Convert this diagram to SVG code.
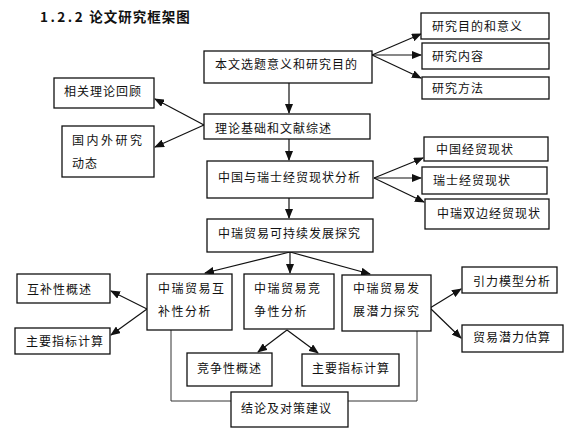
<svg xmlns="http://www.w3.org/2000/svg" width="579" height="436" viewBox="0 0 579 436">
<style>
.b{fill:#fff;stroke:#111;stroke-width:1.3}
.t{font-family:"Noto Sans CJK SC","Liberation Sans",sans-serif;font-size:12px;fill:#111;letter-spacing:1px}
.c{fill:none;stroke:#111;stroke-width:1.2}
.l{fill:none;stroke:#333;stroke-width:1}
.h{font-family:"Noto Sans CJK SC","Liberation Sans",sans-serif;font-size:13.5px;font-weight:bold;fill:#111;letter-spacing:1px}
</style>
<defs>
<marker id="a" markerUnits="userSpaceOnUse" markerWidth="10" markerHeight="8" refX="9" refY="4" orient="auto">
<path d="M0,0 L10,4 L0,8 Z" fill="#111"/>
</marker>
</defs>
<rect width="579" height="436" fill="#fff"/>
<text class="h" x="40" y="22"><tspan style="letter-spacing:2.5px">1.2.2</tspan> 论文研究框架图</text>

<g id="connectors">
<path class="c" d="M289,83 V113" marker-end="url(#a)"/>
<path class="c" d="M289,139 V160" marker-end="url(#a)"/>
<path class="c" d="M289,198 V218" marker-end="url(#a)"/>
<path class="c" d="M372,55 L421,34" marker-end="url(#a)"/>
<path class="c" d="M372,55 L421,55" marker-end="url(#a)"/>
<path class="c" d="M372,55 L421,78" marker-end="url(#a)"/>
<path class="c" d="M204,125 L155,99" marker-end="url(#a)"/>
<path class="c" d="M204,125 L155,147" marker-end="url(#a)"/>
<path class="c" d="M374,178 L423,158" marker-end="url(#a)"/>
<path class="c" d="M374,178 L421,178" marker-end="url(#a)"/>
<path class="c" d="M374,178 L424,202" marker-end="url(#a)"/>
<path class="c" d="M290,252 L205,273" marker-end="url(#a)"/>
<path class="c" d="M290,252 V273" marker-end="url(#a)"/>
<path class="c" d="M290,252 L370,274" marker-end="url(#a)"/>
<path class="c" d="M147,309 L111,291" marker-end="url(#a)"/>
<path class="c" d="M147,309 L111,335" marker-end="url(#a)"/>
<path class="c" d="M287,330 L258,352" marker-end="url(#a)"/>
<path class="c" d="M287,330 L318,353" marker-end="url(#a)"/>
<path class="c" d="M430,308 L461,289" marker-end="url(#a)"/>
<path class="c" d="M430,308 L461,338" marker-end="url(#a)"/>
<path class="l" d="M171,330 V401 H231"/>
<path class="l" d="M417,331 V401 H348"/>
</g>

<g id="n1"><rect class="b" x="204" y="51" width="168" height="32"/><text class="t" x="215" y="68.5">本文选题意义和研究目的</text></g>
<g id="n2"><rect class="b" x="204" y="114" width="166" height="25"/><text class="t" x="215" y="132.5">理论基础和文献综述</text></g>
<g id="n3"><rect class="b" x="207" y="161" width="166" height="37"/><text class="t" x="218" y="181.5">中国与瑞士经贸现状分析</text></g>
<g id="n4"><rect class="b" x="207" y="219" width="166" height="33"/><text class="t" x="218" y="237.5">中瑞贸易可持续发展探究</text></g>

<g id="r1"><rect class="b" x="421" y="13" width="128" height="26"/><text class="t" x="432" y="31">研究目的和意义</text></g>
<g id="r2"><rect class="b" x="422" y="43" width="127" height="26"/><text class="t" x="432" y="61">研究内容</text></g>
<g id="r3"><rect class="b" x="422" y="77" width="127" height="22"/><text class="t" x="432" y="93">研究方法</text></g>

<g id="l1"><rect class="b" x="54" y="78" width="100" height="30"/><text class="t" x="64" y="95.5">相关理论回顾</text></g>
<g id="l2"><rect class="b" x="62" y="126" width="92" height="51"/><text class="t" x="72" y="144.5" style="letter-spacing:2.5px">国内外研究</text><text class="t" x="72" y="167.5">动态</text></g>

<g id="m1"><rect class="b" x="424" y="137" width="124" height="24"/><text class="t" x="436" y="154">中国经贸现状</text></g>
<g id="m2"><rect class="b" x="422" y="167" width="125" height="27"/><text class="t" x="433" y="184.5">瑞士经贸现状</text></g>
<g id="m3"><rect class="b" x="425" y="199" width="124" height="30"/><text class="t" x="437" y="217.5">中瑞双边经贸现状</text></g>

<g id="b1"><rect class="b" x="147" y="274" width="85" height="56"/><text class="t" x="158" y="292.5" style="letter-spacing:1.5px">中瑞贸易互</text><text class="t" x="158" y="315.5" style="letter-spacing:1.5px">补性分析</text></g>
<g id="b2"><rect class="b" x="244" y="274" width="90" height="55"/><text class="t" x="254" y="292.5" style="letter-spacing:1.5px">中瑞贸易竞</text><text class="t" x="254" y="315.5" style="letter-spacing:1.5px">争性分析</text></g>
<g id="b3"><rect class="b" x="342" y="275" width="89" height="56"/><text class="t" x="353" y="292.5" style="letter-spacing:1.5px">中瑞贸易发</text><text class="t" x="353" y="315.5" style="letter-spacing:1.5px">展潜力探究</text></g>

<g id="s1"><rect class="b" x="17" y="274" width="93" height="29"/><text class="t" x="27" y="293.5">互补性概述</text></g>
<g id="s2"><rect class="b" x="15" y="328" width="95" height="26"/><text class="t" x="26" y="345.5">主要指标计算</text></g>
<g id="s3"><rect class="b" x="187" y="353" width="85" height="33"/><text class="t" x="197" y="372.5">竞争性概述</text></g>
<g id="s4"><rect class="b" x="302" y="354" width="97" height="32"/><text class="t" x="312" y="372.5">主要指标计算</text></g>
<g id="s5"><rect class="b" x="462" y="267" width="95" height="26"/><text class="t" x="473" y="285.5">引力模型分析</text></g>
<g id="s6"><rect class="b" x="462" y="325" width="101" height="27"/><text class="t" x="473" y="341.5">贸易潜力估算</text></g>

<g id="end"><rect class="b" x="231" y="392" width="117" height="35"/><text class="t" x="241" y="412.5">结论及对策建议</text></g>
</svg>
